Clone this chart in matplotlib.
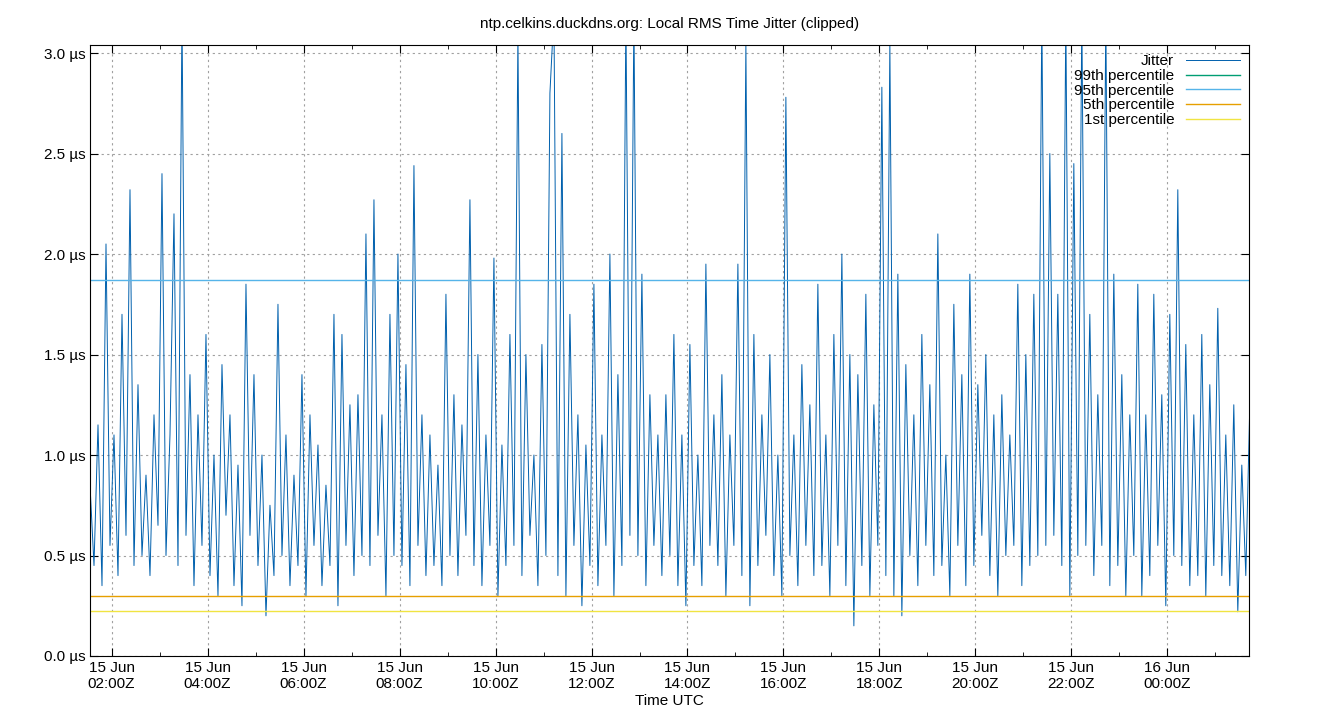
import matplotlib
matplotlib.use("Agg")
import matplotlib.pyplot as plt
import matplotlib.dates as mdates
import numpy as np
import datetime as dt

plt.rcParams['font.family'] = ['Liberation Sans', 'DejaVu Sans']

start = dt.datetime(2024, 6, 15, 1, 33)
step_min = 5
jitter = [
 0.85,0.45,1.15,0.35,2.05,0.55,1.10,0.40,1.70,0.60,2.32,0.45,1.35,0.50,0.90,0.40,1.20,0.65,2.40,0.50,
 1.10,2.20,0.45,3.20,0.60,1.40,0.35,1.20,0.55,1.60,0.40,1.00,0.30,1.45,0.70,1.20,0.35,0.95,0.25,1.85,
 0.60,1.40,0.45,1.00,0.20,0.75,0.40,1.75,0.50,1.10,0.35,0.90,0.45,1.40,0.30,1.20,0.55,1.05,0.35,0.85,
 0.45,1.70,0.25,1.60,0.55,1.25,0.40,1.30,0.50,2.10,0.45,2.27,0.60,1.20,0.30,1.70,0.50,2.00,0.45,1.45,
 0.35,2.44,0.55,1.20,0.40,1.10,0.45,0.95,0.35,1.80,0.50,1.30,0.40,1.15,0.60,2.27,0.45,1.50,0.35,1.10,
 0.55,1.98,0.30,1.05,0.45,1.60,0.55,3.10,0.40,1.50,0.60,1.00,0.35,1.55,0.50,2.80,3.20,0.40,2.60,0.30,
 1.70,0.55,1.20,0.25,1.05,0.45,1.85,0.35,1.10,0.55,2.00,0.30,1.40,0.45,3.20,0.60,3.20,0.50,1.90,0.35,
 1.30,0.55,1.10,0.40,1.30,0.50,1.60,0.35,1.10,0.25,1.55,0.45,1.00,0.35,1.95,0.55,1.20,0.45,1.40,0.30,
 1.10,0.55,1.95,0.40,3.05,0.25,1.60,0.45,1.20,0.60,1.50,0.40,1.00,0.30,2.78,0.50,1.10,0.35,1.45,0.55,
 1.25,0.40,1.85,0.45,1.10,0.30,1.60,0.55,2.00,0.35,1.50,0.15,1.40,0.45,1.80,0.30,1.25,0.55,2.83,0.40,
 3.05,0.30,1.90,0.20,1.45,0.50,1.20,0.35,1.60,0.55,1.35,0.40,2.10,0.45,1.00,0.30,1.75,0.55,1.40,0.35,
 1.90,0.45,1.35,0.60,1.50,0.40,1.20,0.30,1.30,0.50,1.10,0.55,1.85,0.35,1.50,0.45,1.80,0.50,3.20,0.55,
 2.50,0.60,1.80,0.45,3.20,0.30,2.45,0.50,3.20,0.55,1.70,0.40,1.30,0.55,3.20,0.35,1.90,0.45,1.40,0.30,
 1.20,0.50,1.85,0.30,1.20,0.40,1.80,0.55,1.30,0.25,1.70,0.50,2.32,0.45,1.55,0.35,1.20,0.40,1.60,0.30,
 1.35,0.45,1.73,0.40,1.10,0.35,1.25,0.22,0.95,0.40,1.25,0.50,
]
t = [start + dt.timedelta(minutes=step_min * i) for i in range(len(jitter))]
p99 = 3.3
p95 = 1.87
p5 = 0.30
p1 = 0.225

fig = plt.figure(figsize=(13.4, 7.2), dpi=100)
ax = fig.add_axes([90/1340, 64/720, 1159/1340, 611/720])
ax.plot(t, jitter, color='#0060ad', lw=0.7, label='Jitter')
for v, c, lab in [(p99, '#009e73', '99th percentile'), (p95, '#56b4e9', '95th percentile'),
                  (p5, '#e69f00', '5th percentile'), (p1, '#f0e442', '1st percentile')]:
    ax.axhline(v, color=c, lw=1, label=lab)
ax.set_xlim(t[0], start + dt.timedelta(hours=24, minutes=9))
ax.set_ylim(0, 3.04)
ax.set_yticks(np.arange(0, 3.01, 0.5))
ax.set_yticklabels([f"{v:.1f} µs" for v in np.arange(0, 3.01, 0.5)])
ax.xaxis.set_major_locator(mdates.HourLocator(byhour=range(0, 24, 2)))
ax.xaxis.set_minor_locator(mdates.HourLocator())
ax.xaxis.set_major_formatter(mdates.DateFormatter('%d %b\n%H:%MZ'))
ax.grid(True, which='major', color='#a0a0a0', ls=(0, (2, 3)), lw=0.8)
ax.tick_params(direction='in', top=True, right=True, labelsize=11, length=6)
ax.tick_params(which='minor', direction='in', top=True, length=3)
ax.set_xlabel('Time UTC', fontsize=11, labelpad=2)
ax.set_title('ntp.celkins.duckdns.org: Local RMS Time Jitter (clipped)', fontsize=11, pad=12)
leg = ax.legend(loc='upper right', frameon=False, fontsize=11, markerfirst=False,
                handlelength=3.5, handletextpad=0.8, labelspacing=0.05, borderaxespad=0.2)
for tx in leg.get_texts():
    tx.set_ha('right')
fig.savefig('out.png', dpi=100)
